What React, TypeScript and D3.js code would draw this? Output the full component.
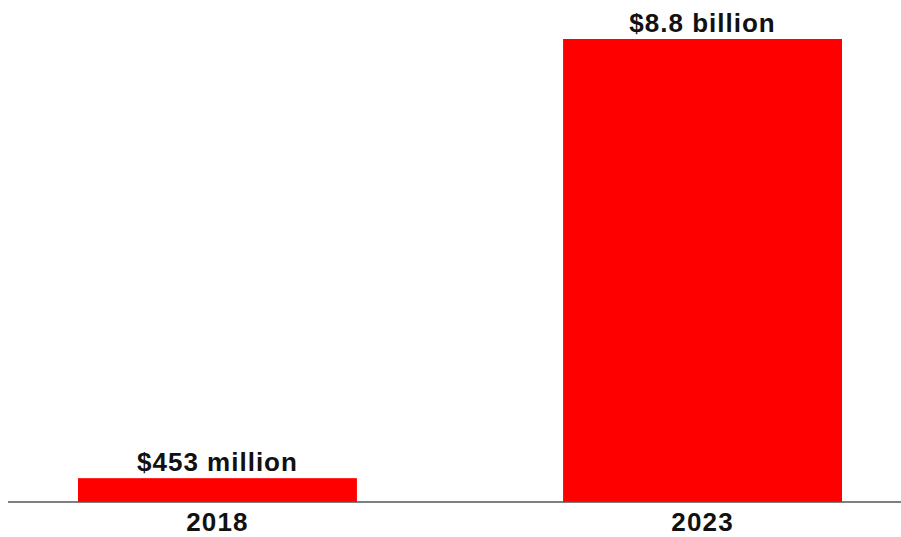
import React from "react";
import * as d3 from "d3";

const categories = ["2018", "2023"];
const values = [453, 8800]; // millions USD
const valueLabels = ["$453 million", "$8.8 billion"];

export default function App() {
  const width = 901;
  const height = 537;
  const baseY = 502;
  const y = d3.scaleLinear().domain([0, 8800]).range([baseY, 39]);
  const xs = d3.scaleBand<string>().domain(categories).range([78, 842]).paddingInner(0.425).paddingOuter(0);
  const font = "'Liberation Sans', Arial, sans-serif";
  return (
    <svg width={width} height={height} style={{ position: "absolute", left: 0, top: 0, background: "#fff" }}>
      {categories.map((c, i) => (
        <rect key={c} x={xs(c)} y={y(values[i])} width={xs.bandwidth()} height={baseY - y(values[i])} fill="#ff0000" />
      ))}
      <line x1={8} x2={901} y1={baseY} y2={baseY} stroke="#555" strokeWidth={1.5} />
      {categories.map((c, i) => (
        <text key={"v" + c} x={xs(c)! + xs.bandwidth() / 2} y={y(values[i]) - 7} textAnchor="middle"
          fontFamily={font} fontWeight="bold" fontSize={26} letterSpacing={1} fill="#111">{valueLabels[i]}</text>
      ))}
      {categories.map((c) => (
        <text key={"c" + c} x={xs(c)! + xs.bandwidth() / 2} y={531} textAnchor="middle"
          fontFamily={font} fontWeight="bold" fontSize={26} letterSpacing={1.2} fill="#111">{c}</text>
      ))}
    </svg>
  );
}
